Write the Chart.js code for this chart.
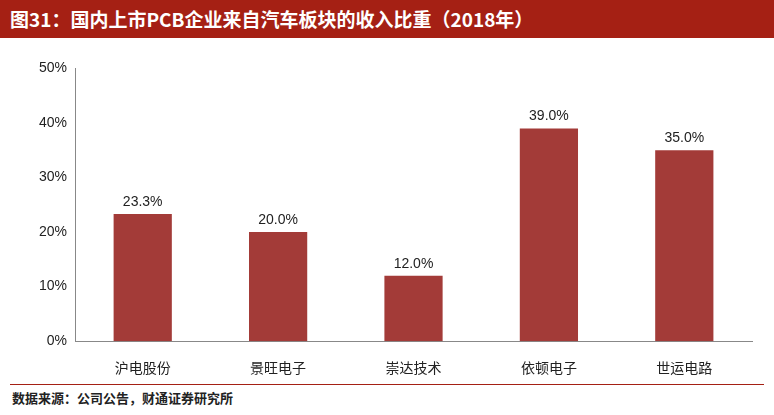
<!DOCTYPE html>
<html><head><meta charset="utf-8">
<script src="https://cdn.jsdelivr.net/npm/chart.js@4"></script>
<style>
body{margin:0;width:774px;height:415px;background:#fff;font-family:"Noto Sans CJK SC",sans-serif;position:relative;overflow:hidden}
#title{position:absolute;left:0;top:0;width:774px;height:38px;background:#A52014;color:#fff;font-weight:bold;font-size:19px;line-height:38px;padding-left:10px;box-sizing:border-box}
#wrap{position:absolute;left:0;top:52px;width:774px;height:334px}
#line{position:absolute;left:10px;right:10px;top:384px;border-top:1.5px solid #A52014}
#src{position:absolute;left:12px;top:388px;font-size:13px;font-weight:bold;color:#222}
</style></head><body>
<div id="title">图31：国内上市PCB企业来自汽车板块的收入比重（2018年）</div>
<div id="wrap"><canvas id="c"></canvas></div>
<div id="line"></div>
<div id="src">数据来源：公司公告，财通证券研究所</div>
<script>
const categories=["沪电股份","景旺电子","崇达技术","依顿电子","世运电路"];
const values=[23.3,20.0,12.0,39.0,35.0];
const labelPlugin={id:"lbl",afterDatasetsDraw(ch){const c=ch.ctx;const m=ch.getDatasetMeta(0);c.save();c.font="14px Liberation Sans, Arial";c.fillStyle="#222";c.textAlign="center";c.textBaseline="bottom";m.data.forEach((b,i)=>c.fillText(values[i].toFixed(1)+"%",b.x,b.y-5));c.restore();}};
new Chart(document.getElementById("c"),{type:"bar",data:{labels:categories,datasets:[{data:values,backgroundColor:"#A33B38",barPercentage:0.43,categoryPercentage:1}]},
options:{responsive:true,maintainAspectRatio:false,animation:false,layout:{padding:{left:31,right:22,top:10,bottom:0}},
plugins:{legend:{display:false},tooltip:{enabled:false}},
scales:{y:{min:0,max:50,ticks:{stepSize:10,callback:v=>v+"%",color:"#222",font:{size:14,family:"Liberation Sans"},padding:8},grid:{display:false,drawTicks:false},border:{color:"#888"}},
x:{ticks:{color:"#222",font:{size:14,family:"Noto Sans CJK SC"},padding:10},grid:{display:false},border:{color:"#888"}}}},plugins:[labelPlugin]});
</script></body></html>
